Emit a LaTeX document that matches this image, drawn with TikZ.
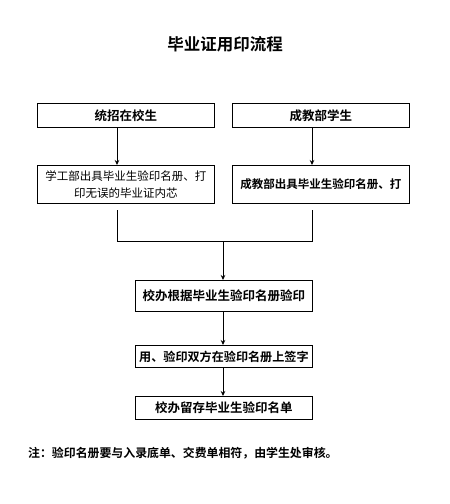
\documentclass[tikz,border=0pt]{standalone}
\usepackage{fontspec}
\setmainfont{Noto Sans CJK SC}
\newfontfamily\cjkb{Noto Sans CJK SC Bold}
\usetikzlibrary{arrows.meta}
\begin{document}
\begin{tikzpicture}[x=1pt,y=-1pt,
  box/.style={draw,line width=0.8pt,inner sep=0pt,anchor=north west},
  arr/.style={line width=0.8pt,-{Stealth[length=5pt,width=4.5pt]}},
  ln/.style={line width=0.8pt}]
\useasboundingbox (0,0) rectangle (450,504);
\node[font=\cjkb\fontsize{16.5}{18}\selectfont] (title) at (225,44) {毕业证用印流程};
\node[box,minimum width=177pt,minimum height=24pt,font=\cjkb\fontsize{12.5}{14}\selectfont] (a) at (37,103) {统招在校生};
\node[box,minimum width=177pt,minimum height=24pt,font=\cjkb\fontsize{12.5}{14}\selectfont] (b) at (232,103) {成教部学生};
\node[box,minimum width=177pt,minimum height=38pt,font=\fontsize{11.5}{17}\selectfont,align=center] (c) at (37,165) {学工部出具毕业生验印名册、打\\印无误的毕业证内芯};
\node[box,minimum width=177pt,minimum height=38pt,font=\cjkb\fontsize{11.5}{14}\selectfont] (d) at (232,165) {成教部出具毕业生验印名册、打};
\node[box,minimum width=177pt,minimum height=31pt,font=\cjkb\fontsize{12.5}{14}\selectfont] (e) at (135,280) {校办根据毕业生验印名册验印};
\node[box,minimum width=177pt,minimum height=22pt,font=\cjkb\fontsize{12.1}{14}\selectfont] (f) at (135,345) {用、验印双方在验印名册上签字};
\node[box,minimum width=177pt,minimum height=23pt,font=\cjkb\fontsize{12.5}{14}\selectfont] (g) at (135,396) {校办留存毕业生验印名单};
\node[anchor=west,inner sep=0pt,font=\cjkb\fontsize{11.9}{13}\selectfont] (note) at (28,453) {注：验印名册要与入录底单、交费单相符，由学生处审核。};
\coordinate (c1) at (117,210);
\coordinate (d1) at (312,210);
\coordinate (c2) at (117,241);
\coordinate (d2) at (312,241);
\coordinate (m) at (223,241);
\draw[arr] (a.south -| c1) -- (c.north -| c1);
\draw[arr] (b.south -| d1) -- (d.north -| d1);
\draw[ln] (c1) -- (c2) -- (d2) -- (d1);
\draw[arr] (m) -- (e.north -| m);
\draw[arr] (e.south -| m) -- (f.north -| m);
\draw[arr] (f.south -| m) -- (g.north -| m);
\end{tikzpicture}
\end{document}
